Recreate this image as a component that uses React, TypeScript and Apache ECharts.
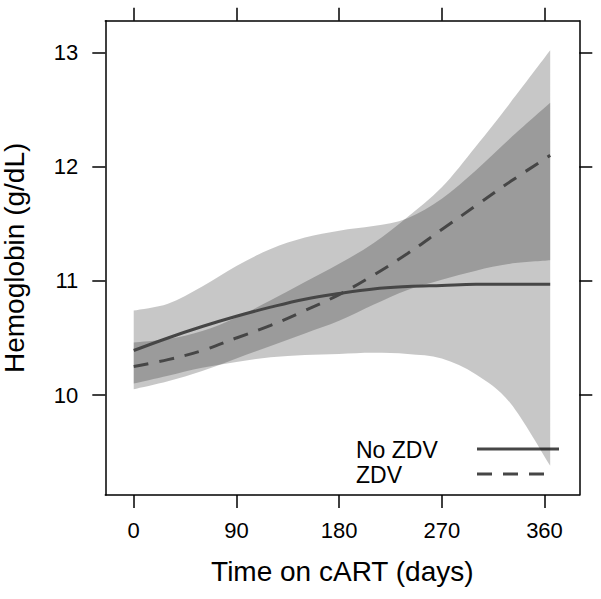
import React, { useEffect, useRef } from "react";
import * as echarts from "echarts";

const days = [0, 30, 60, 90, 120, 150, 180, 210, 240, 270, 300, 330, 365];
const noZdvMean = [10.39, 10.5, 10.6, 10.69, 10.77, 10.84, 10.89, 10.93, 10.95, 10.96, 10.97, 10.97, 10.97];
const zdvMean = [10.25, 10.31, 10.39, 10.5, 10.61, 10.74, 10.88, 11.05, 11.24, 11.45, 11.66, 11.87, 12.1];
const zdvUpper = [10.46, 10.49, 10.56, 10.68, 10.83, 10.99, 11.15, 11.33, 11.56, 11.82, 12.18, 12.56, 13.02];
const zdvLower = [10.05, 10.12, 10.21, 10.32, 10.43, 10.54, 10.65, 10.79, 10.92, 11.01, 11.09, 11.15, 11.18];
const noZdvUpper = [10.74, 10.8, 10.95, 11.13, 11.28, 11.38, 11.44, 11.48, 11.55, 11.72, 11.97, 12.25, 12.56];
const noZdvLower = [10.1, 10.17, 10.24, 10.29, 10.33, 10.35, 10.36, 10.37, 10.36, 10.32, 10.18, 9.93, 9.38];

const xTicks = [0, 90, 180, 270, 360];
const yTicks = [10, 11, 12, 13];
const legendNames = ["No ZDV", "ZDV"];

const FONT = "Liberation Sans, Arial, Helvetica, sans-serif";
const LINE_COLOR = "#464646";
const BAND_COLOR = "rgba(0,0,0,0.22)";

const zip = (xs: number[], ys: number[]) => xs.map((x, i) => [x, ys[i]]);

// Catmull-Rom style smooth path through screen points (forward direction)
function smoothSegments(pts: number[][], start: boolean): string {
  let d = start ? `M${pts[0][0]},${pts[0][1]}` : `L${pts[0][0]},${pts[0][1]}`;
  for (let i = 0; i < pts.length - 1; i++) {
    const p0 = pts[Math.max(0, i - 1)];
    const p1 = pts[i];
    const p2 = pts[i + 1];
    const p3 = pts[Math.min(pts.length - 1, i + 2)];
    const c1x = p1[0] + (p2[0] - p0[0]) / 6;
    const c1y = p1[1] + (p2[1] - p0[1]) / 6;
    const c2x = p2[0] - (p3[0] - p1[0]) / 6;
    const c2y = p2[1] - (p3[1] - p1[1]) / 6;
    d += ` C${c1x},${c1y} ${c2x},${c2y} ${p2[0]},${p2[1]}`;
  }
  return d;
}

function bandSeries(name: string, lower: number[], upper: number[]) {
  return {
    name,
    type: "custom",
    coordinateSystem: "cartesian2d",
    silent: true,
    z: 1,
    clip: true,
    data: days.map((d, i) => [d, lower[i], upper[i]]),
    encode: { x: 0, y: [1, 2] },
    renderItem: (params: any, api: any) => {
      if (params.dataIndex !== 0) return null;
      const up = days.map((d, i) => api.coord([d, upper[i]]));
      const lo = days.map((d, i) => api.coord([d, lower[i]])).reverse();
      const pathData = smoothSegments(up, true) + " " + smoothSegments(lo, false) + " Z";
      return {
        type: "path",
        shape: { pathData },
        style: { fill: BAND_COLOR, stroke: "none" },
      };
    },
  };
}

export default function App() {
  const ref = useRef<HTMLDivElement>(null);
  useEffect(() => {
    document.body.style.margin = "0";
    if (!ref.current) return;
    const chart = echarts.init(ref.current, undefined, { renderer: "svg" });
    const axisLine = { show: true, onZero: false, lineStyle: { color: "#000", width: 1.5 } };
    const tick = (vals: number[]) => ({
      show: true,
      inside: false,
      length: 13,
      customValues: vals,
      lineStyle: { color: "#000", width: 1.5 },
    });
    const xMin = -24.9, xMax = 390.5, yMin = 9.124, yMax = 13.28;
    chart.setOption({
      animation: false,
      grid: { left: 105.3, top: 20.7, right: 21.7, bottom: 104, containLabel: false, outerBoundsMode: "none" },
      xAxis: [
        {
          type: "value", position: "bottom", min: xMin, max: xMax,
          axisLine, axisTick: tick(xTicks), splitLine: { show: false },
          axisLabel: { customValues: xTicks, fontSize: 22, color: "#000", margin: 24, fontFamily: FONT },
          name: "Time on cART (days)", nameLocation: "middle", nameGap: 62,
          nameTextStyle: { fontSize: 28, color: "#000", fontFamily: FONT },
        },
        {
          type: "value", position: "top", min: xMin, max: xMax,
          axisLine, axisTick: tick(xTicks), splitLine: { show: false },
          axisLabel: { show: false },
        },
      ],
      yAxis: [
        {
          type: "value", position: "left", min: yMin, max: yMax,
          axisLine, axisTick: tick(yTicks), splitLine: { show: false },
          axisLabel: { customValues: yTicks, fontSize: 22, color: "#000", margin: 27, fontFamily: FONT },
          name: "Hemoglobin (g/dL)", nameLocation: "middle", nameGap: 77, nameRotate: 90,
          nameTextStyle: { fontSize: 28, color: "#000", fontFamily: FONT },
        },
        {
          type: "value", position: "right", min: yMin, max: yMax,
          axisLine, axisTick: tick(yTicks), splitLine: { show: false },
          axisLabel: { show: false },
        },
      ],
      series: [
        bandSeries("ZDV band", zdvLower, zdvUpper),
        bandSeries("No ZDV band", noZdvLower, noZdvUpper),
        {
          name: legendNames[0], type: "line", data: zip(days, noZdvMean), symbol: "none", smooth: 0.4,
          lineStyle: { color: LINE_COLOR, width: 3, type: "solid" }, z: 3,
        },
        {
          name: legendNames[1], type: "line", data: zip(days, zdvMean), symbol: "none", smooth: 0.4,
          lineStyle: { color: LINE_COLOR, width: 3, type: [15, 11] }, z: 3,
        },
      ],
      graphic: [
        { type: "text", left: 356, top: 438.5, style: { text: legendNames[0], fontSize: 23, lineHeight: 23, fill: "#000", fontFamily: FONT } },
        { type: "text", left: 356, top: 463, style: { text: legendNames[1], fontSize: 23, lineHeight: 23, fill: "#000", fontFamily: FONT } },
        { type: "line", shape: { x1: 477, y1: 449, x2: 559, y2: 449 }, style: { stroke: LINE_COLOR, lineWidth: 3 } },
        { type: "line", shape: { x1: 477, y1: 474, x2: 551, y2: 474 }, style: { stroke: LINE_COLOR, lineWidth: 3, lineDash: [15, 11] } },
      ],
    });
    return () => chart.dispose();
  }, []);
  return <div ref={ref} style={{ position: "absolute", left: 0, top: 0, width: 601, height: 599 }} />;
}
